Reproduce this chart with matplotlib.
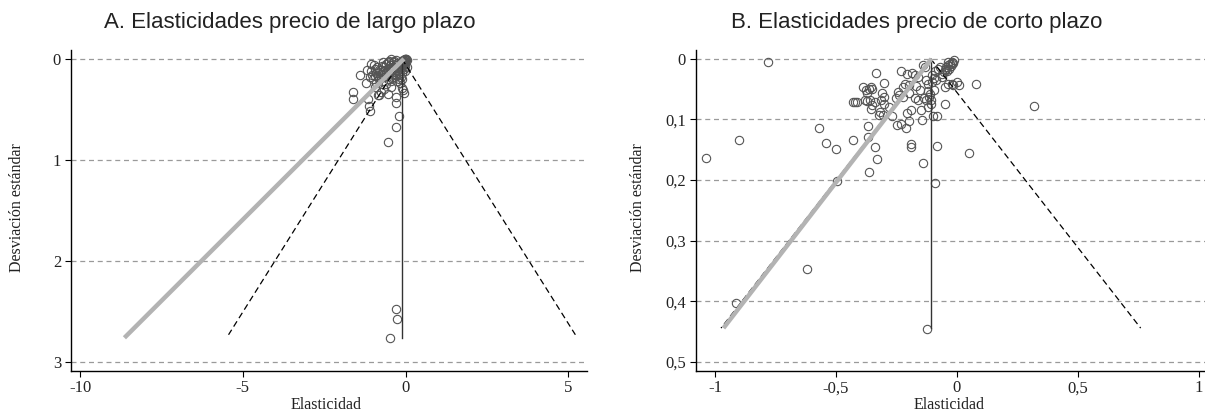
import matplotlib
matplotlib.use("Agg")
import matplotlib.pyplot as plt
from matplotlib.ticker import FuncFormatter

# ---- panel A: long-run price elasticities (elasticity, standard deviation)
a_x = [-0.48, -0.29, -0.27, -0.54, -0.29, -0.21, -0.29, -0.29, -1.09, -1.12,
       -1.15, -1.62, -1.62, -1.39, -1.06, -1.21, -0.80, -0.86, -0.74, -0.45,
       -0.09, -0.06, -0.12, -0.68, -0.45, -0.05, -1.19, -1.03, -0.98, -0.83,
       -0.68, -0.47, -0.37, -0.27, -1.00, -1.10, -1.05, -0.95, -0.90, -0.85,
       -0.80, -0.75, -0.70, -0.65, -0.60, -0.55, -0.50, -0.45, -0.40, -0.35,
       -0.30, -0.25, -0.20, -0.15, -0.10, -0.60, -0.55, -0.50, -0.40, -0.35,
       -0.30, -0.25, -0.20, -0.15, -0.20, -0.30, -0.45, -0.55, -0.60, -0.70,
       -0.90, -0.95, -0.15, -0.10, -0.12, -0.18, -0.10, -0.05, -0.04, -0.03,
       -0.02, -0.01, 0.00, 0.02, -0.06, -0.08, 0.05, -0.02, -0.16, -0.65,
       -0.55, -0.33, -0.38, -0.42, -0.52, -0.62, -0.72, -0.78, -0.88, -0.93,
       -0.01, 0.01, -0.03, -0.07, -0.11, -0.14, -0.22, -0.26, 0.03, -0.02]
a_y = [2.76, 2.48, 2.57, 0.82, 0.67, 0.57, 0.44, 0.38, 0.52, 0.47,
       0.40, 0.33, 0.40, 0.16, 0.05, 0.24, 0.36, 0.36, 0.33, 0.28,
       0.31, 0.34, 0.29, 0.03, 0.00, 0.10, 0.11, 0.16, 0.06, 0.11,
       0.08, 0.06, 0.18, 0.22, 0.20, 0.18, 0.12, 0.10, 0.14, 0.18,
       0.20, 0.15, 0.12, 0.18, 0.14, 0.10, 0.15, 0.12, 0.08, 0.10,
       0.06, 0.04, 0.05, 0.03, 0.02, 0.05, 0.03, 0.02, 0.03, 0.02,
       0.01, 0.12, 0.15, 0.18, 0.20, 0.16, 0.22, 0.20, 0.25, 0.22,
       0.24, 0.28, 0.10, 0.08, 0.14, 0.24, 0.20, 0.05, 0.02, 0.01,
       0.005, 0.00, 0.01, 0.00, 0.03, 0.01, 0.08, 0.12, 0.07, 0.30,
       0.35, 0.13, 0.16, 0.19, 0.09, 0.11, 0.07, 0.13, 0.08, 0.17,
       0.02, 0.00, 0.04, 0.05, 0.06, 0.08, 0.09, 0.11, 0.01, 0.07]

# ---- panel B: short-run price elasticities
b_x = [-1.038, -0.901, -0.782, -0.914, -0.621, -0.568, -0.543, -0.500, -0.497, -0.430,
       -0.369, -0.369, -0.338, -0.331, -0.363, -0.334, -0.301, -0.188, -0.188, -0.140,
       -0.091, -0.081, 0.049, 0.081, 0.317, -0.124, -0.049, -0.081, -0.099, -0.210,
       -0.197, -0.205, -0.248, -0.229, -0.269, -0.304, -0.322, -0.188, -0.150, -0.145,
       -0.428, -0.420, -0.412, -0.389, -0.376, -0.365, -0.357, -0.349, -0.381, -0.373,
       -0.360, -0.349, -0.357, -0.373, -0.309, -0.301, -0.301, -0.312, -0.338, -0.317,
       -0.229, -0.205, -0.185, -0.174, -0.213, -0.221, -0.197, -0.245, -0.253, -0.221,
       -0.197, -0.174, -0.162, -0.153, -0.142, -0.131, -0.126, -0.118, -0.121, -0.134,
       -0.126, -0.115, -0.108, -0.105, -0.121, -0.102, -0.094, -0.102, -0.086, -0.078,
       -0.070, -0.062, -0.094, -0.051, -0.038, -0.014, 0.002, 0.010, -0.019, -0.010,
       -0.019, -0.030, -0.038, -0.046, -0.049, -0.041, -0.033, -0.025, -0.022, -0.014,
       -0.046, -0.054, -0.038, -0.280, -0.240, -0.170, -0.160, -0.110, -0.090, -0.060]
b_y = [0.164, 0.134, 0.006, 0.402, 0.347, 0.114, 0.138, 0.149, 0.202, 0.134,
       0.110, 0.129, 0.145, 0.165, 0.186, 0.024, 0.040, 0.140, 0.146, 0.171,
       0.204, 0.143, 0.156, 0.041, 0.078, 0.445, 0.074, 0.094, 0.094, 0.114,
       0.103, 0.090, 0.109, 0.107, 0.094, 0.093, 0.093, 0.084, 0.085, 0.101,
       0.071, 0.071, 0.071, 0.047, 0.051, 0.049, 0.047, 0.049, 0.068, 0.070,
       0.068, 0.076, 0.082, 0.057, 0.057, 0.063, 0.074, 0.068, 0.071, 0.087,
       0.020, 0.025, 0.023, 0.027, 0.041, 0.047, 0.043, 0.054, 0.064, 0.063,
       0.057, 0.064, 0.068, 0.052, 0.010, 0.013, 0.035, 0.041, 0.053, 0.065,
       0.068, 0.063, 0.068, 0.075, 0.079, 0.027, 0.032, 0.038, 0.035, 0.016,
       0.013, 0.030, 0.051, 0.046, 0.041, 0.043, 0.038, 0.043, 0.041, 0.002,
       0.005, 0.008, 0.010, 0.013, 0.019, 0.020, 0.016, 0.012, 0.008, 0.007,
       0.016, 0.021, 0.005, 0.080, 0.060, 0.045, 0.030, 0.058, 0.020, 0.025]

# funnel and regression lines: (x_top, x_bottom, se_bottom)
a_center, a_center_se = -0.11, 2.76
a_funnel_left, a_funnel_right, a_funnel_se = -5.44, 5.22, 2.73
a_reg_top, a_reg_bottom, a_reg_se = -0.05, -8.64, 2.76

b_center, b_center_se = -0.108, 0.444
b_funnel_left, b_funnel_right, b_funnel_se = -0.975, 0.760, 0.444
b_reg_top, b_reg_bottom, b_reg_se = -0.105, -0.965, 0.444

a_xticks = [-10, -5, 0, 5]
a_yticks = [0, 1, 2, 3]
b_xticks = [-1, -0.5, 0, 0.5, 1]
b_yticks = [0, 0.1, 0.2, 0.3, 0.4, 0.5]

serif = "Liberation Serif"
sans = "Liberation Sans"


def comma(v, pos):
    s = ("%g" % v).replace(".", ",")
    return s


def draw_panel(ax, xs, ys, center, center_se, f_left, f_right, f_se,
               r_top, r_bottom, r_se, xticks, yticks, xlim, ylim):
    for t in yticks:
        ax.axhline(t, color="#9a9a9a", lw=0.9, dashes=(4, 3), zorder=1)
    ax.plot(xs, ys, "o", mfc="none", mec="#555555", ms=6, mew=0.8, zorder=2)
    ax.plot([center, center], [0, center_se], color="#333333", lw=1.0, zorder=3)
    ax.plot([center, f_left], [0, f_se], color="black", lw=0.9, dashes=(5, 3), zorder=3)
    ax.plot([center, f_right], [0, f_se], color="black", lw=0.9, dashes=(5, 3), zorder=3)
    ax.plot([r_top, r_bottom], [0, r_se], color="#b3b3b3", lw=3.2,
            solid_capstyle="butt", zorder=4)
    ax.set_xlim(xlim)
    ax.set_ylim(ylim)
    ax.set_xticks(xticks)
    ax.set_yticks(yticks)
    ax.xaxis.set_major_formatter(FuncFormatter(comma))
    ax.yaxis.set_major_formatter(FuncFormatter(comma))
    for side in ["top", "right"]:
        ax.spines[side].set_visible(False)
    for side in ["left", "bottom"]:
        ax.spines[side].set_linewidth(1.0)
    ax.tick_params(direction="out", length=4, width=0.8, labelsize=12, pad=3)
    for lab in ax.get_xticklabels() + ax.get_yticklabels():
        lab.set_fontfamily(serif)
        lab.set_color("#222222")


fig = plt.figure(figsize=(12.05, 4.11), dpi=100)
ax_a = fig.add_axes([0.0587, 0.098, 0.4285, 0.780])
ax_b = fig.add_axes([0.5773, 0.098, 0.4225, 0.780])

draw_panel(ax_a, a_x, a_y, a_center, a_center_se, a_funnel_left, a_funnel_right,
           a_funnel_se, a_reg_top, a_reg_bottom, a_reg_se,
           a_xticks, a_yticks, (-10.29, 5.58), (3.086, -0.086))
draw_panel(ax_b, b_x, b_y, b_center, b_center_se, b_funnel_left, b_funnel_right,
           b_funnel_se, b_reg_top, b_reg_bottom, b_reg_se,
           b_xticks, b_yticks, (-1.08, 1.025), (0.5143, -0.0143))

fig.text(0.2407, 0.946, "A. Elasticidades precio de largo plazo", ha="center",
         va="center", fontsize=16, family=sans, color="#222222")
fig.text(0.761, 0.946, "B. Elasticidades precio de corto plazo", ha="center",
         va="center", fontsize=16, family=sans, color="#222222")

for xpos, ypos in [(0.2705, 0.0146), (0.7876, 0.0146)]:
    fig.text(xpos, ypos, "Elasticidad", ha="center", va="center",
             fontsize=11.5, family=serif, color="#222222")
for xpos in [0.0141, 0.5295]:
    fig.text(xpos, 0.496, "Desviación estándar", ha="center", va="center",
             rotation=90, fontsize=11.5, family=serif, color="#222222")

fig.savefig("out.png", dpi=100)
